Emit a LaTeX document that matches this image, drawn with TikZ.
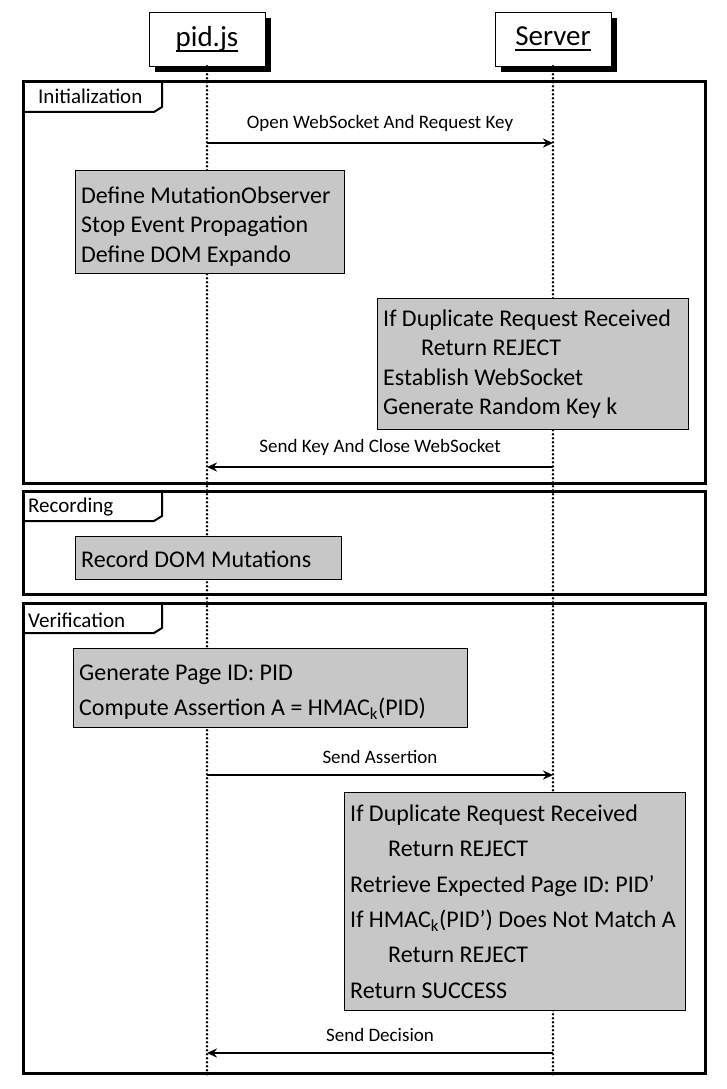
\documentclass[tikz,border=0pt]{standalone}
\usepackage{fontspec}
\setmainfont{Carlito}
\usetikzlibrary{arrows.meta,calc,shadows,positioning}
\tikzset{
  actor/.style={draw,thin,fill=white,minimum width=116pt,minimum height=54pt,
    font=\fontsize{29}{31}\selectfont,
    drop shadow={shadow xshift=6pt,shadow yshift=-6pt,fill=black,opacity=1}},
  lifeline/.style={line width=2.8pt,line cap=round,dash pattern=on 0pt off 4pt},
  frame/.style={line width=3pt},
  tab/.style={line width=2pt},
  tabtext/.style={anchor=west,inner sep=0pt,font=\fontsize{21}{23}\selectfont},
  procbox/.style={draw,thin,fill=black!22,inner sep=0pt},
  proctext/.style={anchor=north west,inner sep=0pt,align=flush left,text width=#1},
  msg/.style={font=\fontsize{19}{21}\selectfont,above=7pt,midway},
}
\newcommand{\sub}[1]{\textsubscript{#1}}
\newcommand{\ulin}[1]{\leavevmode\setbox0\hbox{#1}\rlap{\rule[-5pt]{\wd0}{2pt}}\box0}
\newcommand{\firststrut}{\rule{0pt}{20pt}}
\begin{document}
\begin{tikzpicture}[x=1pt,y=-1pt,>={Stealth[width=9pt,length=10pt]}]
\useasboundingbox (0,0) rectangle (726,1089);
\node[actor] (pid) at (207,39) {\raisebox{-2pt}{\ulin{pid.js}}};
\node[actor] (srv) at (553,39) {\raisebox{-2pt}{\ulin{Server}}};
\coordinate (pidend) at (207,1077);
\coordinate (srvend) at (553,1077);
\draw[lifeline] (pid.south) -- (pidend);
\draw[lifeline] (srv.south) -- (srvend);
% frames
\foreach \t/\b/\lx/\ly/\name in {82/483/38/96/Initialization,491/594/28/507/Recording,603/1073/28/620/Verification}
{\draw[frame] (23,\t) rectangle (705,\b);
 \draw[tab] (23,\t+30) -- (154,\t+30) -- (162,\t+25) -- (162,\t);
 \node[tabtext] at (\lx,\ly) {\name};}
% message points on the lifelines
\foreach \n/\y in {a/143,b/467,c/775,d/1053}
{\coordinate (p\n) at (207,\y);
 \coordinate (s\n) at (553,\y);}
% grey boxes
\foreach \name/\x/\y/\w/\h in {obs/75/170/269/103,est/377/298/311/131,rec/75/536/266/43,gen/73/648/394/79,chk/344/792/341/218}
  \node[procbox,anchor=north west,minimum width=\w pt,minimum height=\h pt] (\name) at (\x,\y) {};
\begin{scope}[font=\fontsize{24}{29.5}\selectfont]
\node[proctext=300pt] (obst) at ($(obs.north west)+(6,13)$)
  {\firststrut Define MutationObserver\\Stop Event Propagation\\Define DOM Expando};
\node[proctext=300pt] (estt) at ($(est.north west)+(6,8)$)
  {\firststrut If Duplicate Request Received\\\hspace*{38pt}Return REJECT\\Establish WebSocket\\Generate Random Key k};
\node[proctext=300pt] (rect) at ($(rec.north west)+(6,11)$)
  {\firststrut Record DOM Mutations};
\end{scope}
\begin{scope}[font=\fontsize{24}{35.4}\selectfont]
\node[proctext=390pt] (gent) at ($(gen.north west)+(6,12)$)
  {\firststrut Generate Page ID: PID\\Compute Assertion A = HMAC\sub{k}(PID)};
\node[proctext=390pt] (chkt) at ($(chk.north west)+(6,9)$)
  {\firststrut If Duplicate Request Received\\\hspace*{38pt}Return REJECT\\Retrieve Expected Page ID: PID’\\If HMAC\sub{k}(PID’) Does Not Match A\\\hspace*{38pt}Return REJECT\\Return SUCCESS};
\end{scope}
% messages
\draw[->,line width=2pt] (pa) -- node[msg] {Open WebSocket And Request Key} (sa);
\draw[->,line width=2pt] (sb) -- node[msg] {Send Key And Close WebSocket} (pb);
\draw[->,line width=2pt] (pc) -- node[msg] {Send Assertion} (sc);
\draw[->,line width=2pt] (sd) -- node[msg] {Send Decision} (pd);
\end{tikzpicture}
\end{document}
